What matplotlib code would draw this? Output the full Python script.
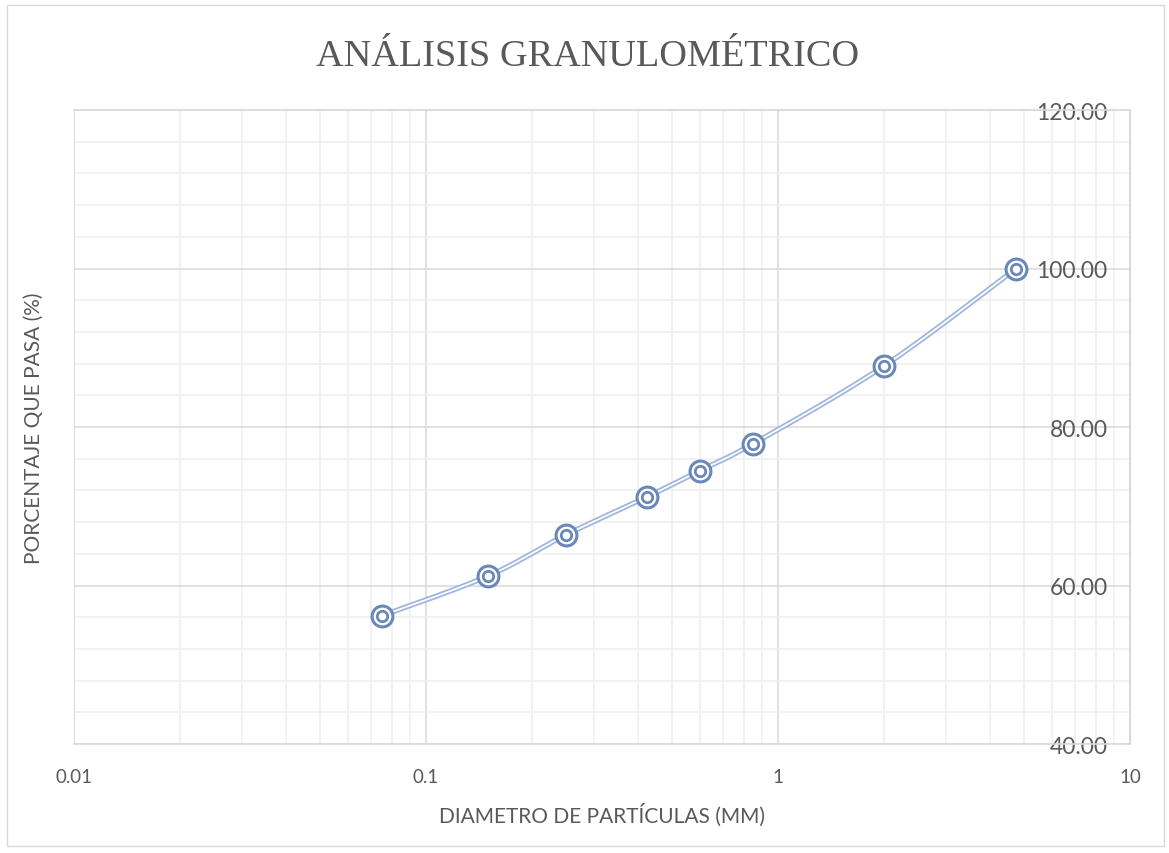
import numpy as np
import matplotlib
matplotlib.use("Agg")
import matplotlib.pyplot as plt
from matplotlib.ticker import LogLocator, MultipleLocator, FixedLocator

# data
diametro = [0.075, 0.15, 0.25, 0.425, 0.6, 0.85, 2.0, 4.75]
pasa = [56.2, 61.2, 66.4, 71.2, 74.5, 77.9, 87.7, 100.0]
y_ticks = [40, 60, 80, 100, 120]
x_ticks = [0.01, 0.1, 1, 10]
x_labels = ["0.01", "0.1", "1", "10"]

txt = "#595959"
plt.rcParams['font.family'] = ['Lato', 'DejaVu Sans']


def catmull_rom(xs, ys, n=30):
    # smooth path like Excel "smoothed line", drawn in log-x space
    lx = np.log10(xs)
    pts = np.column_stack([lx, ys])
    pts = np.vstack([pts[0], pts, pts[-1]])
    out = []
    for i in range(1, len(pts) - 2):
        p0, p1, p2, p3 = pts[i - 1], pts[i], pts[i + 1], pts[i + 2]
        t = np.linspace(0, 1, n)[:, None]
        seg = 0.5 * ((2 * p1) + (-p0 + p2) * t + (2 * p0 - 5 * p1 + 4 * p2 - p3) * t ** 2
                     + (-p0 + 3 * p1 - 3 * p2 + p3) * t ** 3)
        out.append(seg)
    path = np.vstack(out)
    return 10 ** path[:, 0], path[:, 1]


fig = plt.figure(figsize=(11.69, 8.54), dpi=100)
fig.patches.append(plt.Rectangle((0.006, 0.008), 0.99, 0.985, transform=fig.transFigure,
                                 fill=False, edgecolor="#d9d9d9", lw=1))
ax = fig.add_axes([0.0633, 0.1276, 0.9033, 0.7424])

ax.set_xscale("log")
ax.set_xlim(0.01, 10)
ax.set_ylim(40, 120)

ax.xaxis.set_major_locator(FixedLocator(x_ticks))
ax.xaxis.set_minor_locator(LogLocator(base=10, subs=np.arange(2, 10)))
ax.set_xticklabels(x_labels)
ax.yaxis.set_major_locator(FixedLocator(y_ticks))
ax.yaxis.set_minor_locator(MultipleLocator(4))
ax.set_yticklabels([f"{v:.2f}" for v in y_ticks])

ax.grid(which="major", color="#d9d9d9", lw=1.1)
ax.grid(which="minor", color="#efefef", lw=1.1)
ax.set_axisbelow(True)

# vertical axis crosses at maximum x, labels sit left of it
ax.spines['left'].set_position(('axes', 1.0))
for s in ax.spines.values():
    s.set_color("#d9d9d9")
    s.set_linewidth(1.2)
ax.axvline(0.01, color="#d9d9d9", lw=1.2)

ax.tick_params(axis="both", which="both", length=0, labelcolor=txt)
ax.tick_params(axis="x", pad=17, labelsize=13.5)
ax.tick_params(axis="y", pad=16, labelsize=16.5)

sx, sy = catmull_rom(diametro, pasa)
ax.plot(sx, sy, color="#9db5de", lw=3.8, solid_capstyle="round", zorder=3)
ax.plot(sx, sy, color="white", lw=1.3, zorder=4)
ax.plot(diametro, pasa, ls="none", marker="o", ms=15, mfc="white", mec="#6a89b8", mew=2.2, zorder=5)
ax.plot(diametro, pasa, ls="none", marker="o", ms=7.5, mfc="white", mec="#6a89b8", mew=2.0, zorder=6)

ax.set_xlabel("DIAMETRO DE PARTÍCULAS (MM)", fontsize=15, color=txt)
ax.xaxis.set_label_coords(0.5, -0.093)
ax.set_ylabel("PORCENTAJE QUE PASA (%)", fontsize=15, color=txt)
ax.yaxis.set_label_coords(-0.029, 0.5)

fig.text(0.503, 0.933, "ANÁLISIS GRANULOMÉTRICO", ha="center", va="center",
         fontsize=27.5, color=txt, family=["Liberation Serif", "DejaVu Serif"])

plt.savefig("out.png", dpi=100)
